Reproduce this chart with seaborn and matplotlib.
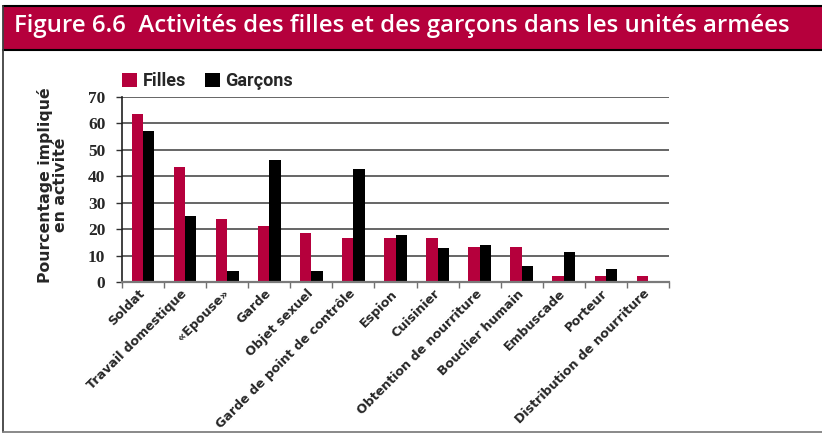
import matplotlib
matplotlib.use("Agg")
import matplotlib.pyplot as plt
import seaborn as sns
import pandas as pd
from matplotlib.patches import Rectangle, Patch
from matplotlib.lines import Line2D

categories = ["Soldat", "Travail domestique", "«Epouse»", "Garde", "Objet sexuel",
              "Garde de point de contrôle", "Espion", "Cuisinier",
              "Obtention de nourriture", "Bouclier humain", "Embuscade",
              "Porteur", "Distribution de nourriture"]
filles = [63.5, 43.6, 24.0, 21.3, 18.7, 16.8, 16.8, 16.8, 13.4, 13.4, 2.4, 2.4, 2.4]
garcons = [57.3, 25.1, 4.2, 46.3, 4.2, 42.6, 17.9, 13.0, 14.1, 6.2, 11.5, 5.0, 0.0]
series = ["Filles", "Garçons"]
yticks = [0, 10, 20, 30, 40, 50, 60, 70]
title = "Figure 6.6  Activités des filles et des garçons dans les unités armées"
ylabel = "Pourcentage impliqué\nen activité"

CRIMSON = "#B5003C"
colors = {"Filles": CRIMSON, "Garçons": "#000000"}

df = pd.DataFrame({
    "Activité": categories * 2,
    "Pourcentage": filles + garcons,
    "Sexe": [series[0]] * len(categories) + [series[1]] * len(categories),
})

sns.set_theme(style="white")
plt.rcParams["font.family"] = ["DejaVu Sans"]

W, H = 822, 433
fig = plt.figure(figsize=(W / 100, H / 100), dpi=100)
ax = fig.add_axes([122 / W, 1 - 282 / H, (669 - 122) / W, (282 - 97) / H])

sns.barplot(data=df, x="Activité", y="Pourcentage", hue="Sexe", order=categories,
            hue_order=series, palette=colors, width=0.54, dodge=True,
            saturation=1, ax=ax, legend=False, errorbar=None, linewidth=0)

ax.set_xlim(-0.5, len(categories) - 0.5)
ax.set_ylim(0, 70)
ax.set_yticks(yticks)
ax.set_yticklabels([str(t) for t in yticks], fontfamily="Liberation Serif",
                   fontweight="bold", fontsize=12.5)
for t in yticks[1:]:
    ax.axhline(t, color="#3c3c3c", lw=1.1, zorder=0)

ax.set_xticks(range(len(categories)))
ax.set_xticklabels(categories, rotation=45, ha="right", va="center",
                   rotation_mode="anchor", fontfamily="DejaVu Sans",
                   fontweight="bold", fontsize=9.1)
ax.set_xticks([i - 0.5 for i in range(len(categories) + 1)], minor=True)
ax.tick_params(axis="x", which="major", length=0, pad=7)
ax.tick_params(axis="x", which="minor", length=4, width=1, color="#707070",
               direction="out", bottom=True)
ax.tick_params(axis="y", which="major", length=4, width=1, color="#303030",
               direction="out", left=True, pad=8)
ax.set_xlabel("")
ax.set_ylabel("")
for s in ["top", "right"]:
    ax.spines[s].set_visible(False)
ax.spines["left"].set_color("#202020")
ax.spines["left"].set_linewidth(1.2)
ax.spines["bottom"].set_color("#7a7a7a")
ax.spines["bottom"].set_linewidth(1.6)

fig.text(52 / W, 1 - 185 / H, ylabel, rotation=90, ha="center", va="center",
         multialignment="center", fontweight="bold", fontsize=11.3,
         fontfamily="DejaVu Sans", linespacing=1.0)

# legend
handles = [Patch(facecolor=colors[s], edgecolor="none") for s in series]
fig.legend(handles, series, loc="center left", bbox_to_anchor=(122 / W, 1 - 81 / H),
           ncol=2, frameon=False, borderpad=0, borderaxespad=0,
           handlelength=0.83, handleheight=0.83,
           handletextpad=0.3, columnspacing=1.05,
           prop={"family": "Roboto", "weight": "bold", "size": 13})

# title band and frame
fig.patches.append(Rectangle((3 / W, 1 - 50 / H), 1, 44 / H, transform=fig.transFigure,
                             facecolor=CRIMSON, edgecolor="none", zorder=0))
fig.lines.append(Line2D([3 / W, 1], [1 - 6 / H, 1 - 6 / H], transform=fig.transFigure,
                        color="black", lw=1.5))
fig.lines.append(Line2D([3 / W, 1], [1 - 50 / H, 1 - 50 / H], transform=fig.transFigure,
                        color="black", lw=1.5))
fig.lines.append(Line2D([3 / W, 3 / W], [1 - 432 / H, 1 - 6 / H], transform=fig.transFigure,
                        color="#404040", lw=1.3))
fig.lines.append(Line2D([3 / W, 1], [1 - 432 / H, 1 - 432 / H], transform=fig.transFigure,
                        color="#808080", lw=1.3))
fig.text(14 / W, 1 - 26 / H, title, ha="left", va="center", color="white",
         fontfamily="Open Sans", fontweight="semibold", fontsize=17.3)

fig.savefig("out.png", dpi=100)
